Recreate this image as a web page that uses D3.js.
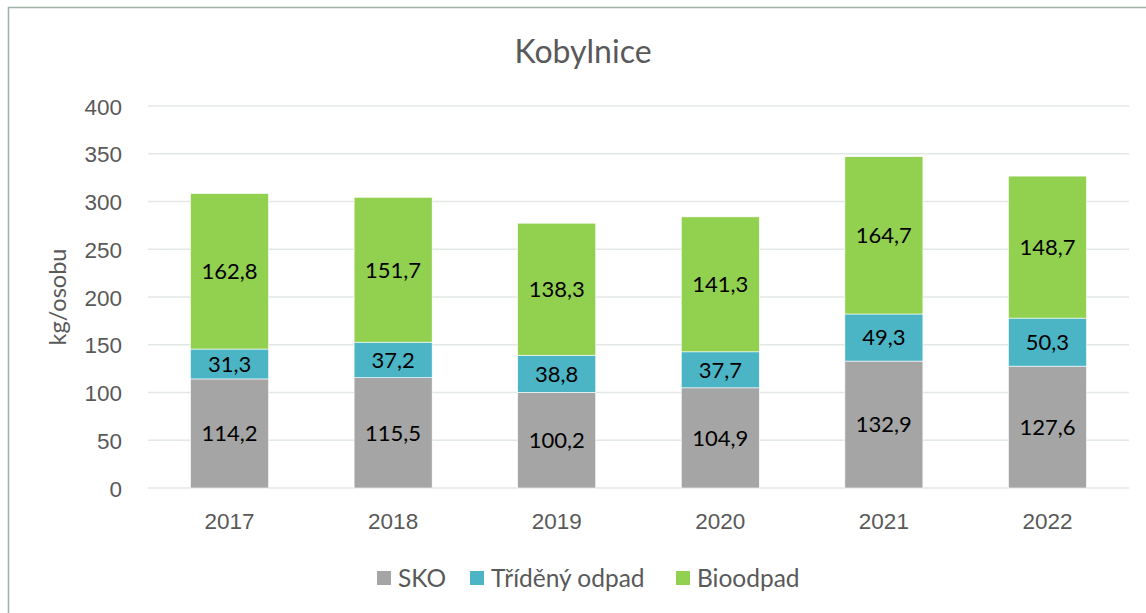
<!DOCTYPE html>
<html>
<head>
<meta charset="utf-8">
<script src="https://cdn.jsdelivr.net/npm/d3@7"></script>
<style>
  body { margin: 0; background: #fff; }
  svg { font-family: Lato, "Open Sans", sans-serif; }
</style>
</head>
<body>
<svg id="chart"></svg>
<script>
// data
var years = ["2017", "2018", "2019", "2020", "2021", "2022"]
var sko = [114.2, 115.5, 100.2, 104.9, 132.9, 127.6]
var tridene = [31.3, 37.2, 38.8, 37.7, 49.3, 50.3]
var bio = [162.8, 151.7, 138.3, 141.3, 164.7, 148.7]
var seriesNames = ["SKO", "Tříděný odpad", "Bioodpad"]
var yTicks = [0, 50, 100, 150, 200, 250, 300, 350, 400]

var width = 1146, height = 613
var margin = {top: 106, right: 17, bottom: 125, left: 148}

var svg = d3.select("#chart")
    .attr("width", width)
    .attr("height", height)

// chart frame
svg.append("rect")
    .attr("x", 8.5).attr("y", 7.5)
    .attr("width", width + 10).attr("height", height + 10)
    .attr("fill", "none")
    .attr("stroke", "#9fb3a6")
    .attr("stroke-width", 1.5)

var rows = years.map(function(y, i) {
  return {year: y, "SKO": sko[i], "Tříděný odpad": tridene[i], "Bioodpad": bio[i]}
})

var x = d3.scaleBand()
    .domain(years)
    .range([margin.left, width - margin.right])
    .paddingInner(0.523)
    .paddingOuter(0.26)

var y = d3.scaleLinear()
    .domain([0, 400])
    .range([height - margin.bottom, margin.top])

var color = d3.scaleOrdinal()
    .domain(seriesNames)
    .range(["#a5a5a5", "#4bb5c6", "#92d050"])

// gridlines
svg.append("g")
  .selectAll("line")
  .data(yTicks)
  .enter().append("line")
    .attr("x1", margin.left)
    .attr("x2", width - margin.right)
    .attr("y1", function(d) { return y(d) })
    .attr("y2", function(d) { return y(d) })
    .attr("stroke", "#e2e8e4")
    .attr("stroke-width", 1.5)

// y axis labels
var yAxis = svg.append("g")
    .attr("transform", "translate(" + (margin.left - 26) + ",0)")
    .call(d3.axisLeft(y).tickValues(yTicks).tickSize(0).tickPadding(0))
yAxis.select(".domain").remove()
yAxis.selectAll("text")
    .attr("fill", "#595959")
    .style("font-size", "22.5px")
    .attr("dy", "0.36em")

// x axis labels
var xAxis = svg.append("g")
    .attr("transform", "translate(0," + (height - margin.bottom) + ")")
    .call(d3.axisBottom(x).tickSize(0).tickPadding(0))
xAxis.select(".domain").remove()
xAxis.selectAll("text")
    .attr("fill", "#595959")
    .style("font-size", "22.5px")
    .attr("y", 41)
    .attr("dy", null)

// stacked bars
var stacked = d3.stack().keys(seriesNames)(rows)

var groups = svg.append("g")
  .selectAll("g")
  .data(stacked)
  .enter().append("g")
    .attr("fill", function(d) { return color(d.key) })

groups.selectAll("rect")
  .data(function(d) { return d })
  .enter().append("rect")
    .attr("x", function(d) { return x(d.data.year) })
    .attr("y", function(d) { return y(d[1]) })
    .attr("height", function(d) { return y(d[0]) - y(d[1]) })
    .attr("width", x.bandwidth())
    .attr("stroke", "#ffffff")
    .attr("stroke-width", 0.6)

groups.selectAll("text")
  .data(function(d) { return d })
  .enter().append("text")
    .attr("x", function(d) { return x(d.data.year) + x.bandwidth() / 2 })
    .attr("y", function(d) { return (y(d[0]) + y(d[1])) / 2 })
    .attr("dy", "0.36em")
    .attr("text-anchor", "middle")
    .attr("fill", "#000")
    .style("font-size", "22px")
    .text(function(d) { return d3.format(".1f")(d[1] - d[0]).replace(".", ",") })

// title
svg.append("text")
    .attr("x", 583).attr("y", 63)
    .attr("text-anchor", "middle")
    .attr("fill", "#595959")
    .style("font-size", "32px")
    .text("Kobylnice")

// y axis title
svg.append("text")
    .attr("transform", "translate(66," + ((y(0) + y(400)) / 2) + ") rotate(-90)")
    .attr("text-anchor", "middle")
    .attr("fill", "#595959")
    .style("font-size", "23.5px")
    .text("kg/osobu")

// legend
var legendX = [377, 470, 676]
var legend = svg.append("g")
  .selectAll("g")
  .data(seriesNames)
  .enter().append("g")
    .attr("transform", function(d, i) { return "translate(" + legendX[i] + ",571)" })
legend.append("rect")
    .attr("width", 14).attr("height", 14)
    .attr("fill", function(d) { return color(d) })
legend.append("text")
    .attr("x", 21).attr("y", 7)
    .attr("dy", "0.36em")
    .attr("fill", "#595959")
    .style("font-size", "24.5px")
    .text(function(d) { return d })
</script>
</body>
</html>
